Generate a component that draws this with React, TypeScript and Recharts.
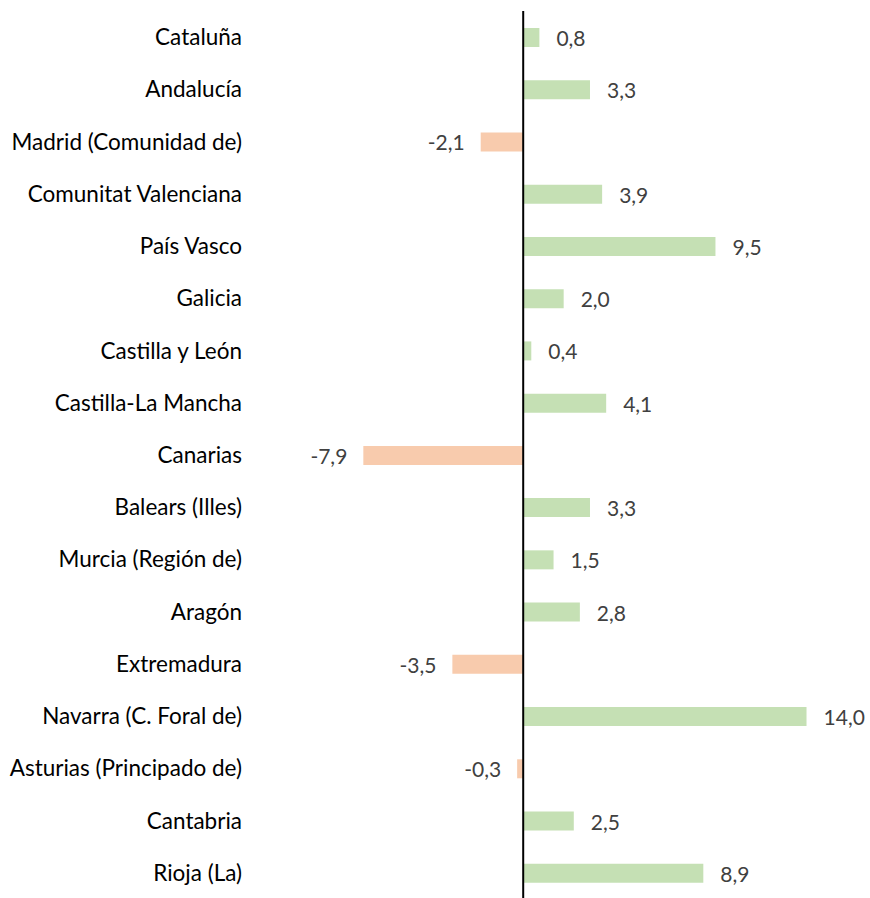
import { BarChart, Bar, XAxis, YAxis, Cell, LabelList, ReferenceLine } from "recharts";

const regions = [
  "Cataluña",
  "Andalucía",
  "Madrid (Comunidad de)",
  "Comunitat Valenciana",
  "País Vasco",
  "Galicia",
  "Castilla y León",
  "Castilla-La Mancha",
  "Canarias",
  "Balears (Illes)",
  "Murcia (Región de)",
  "Aragón",
  "Extremadura",
  "Navarra (C. Foral de)",
  "Asturias (Principado de)",
  "Cantabria",
  "Rioja (La)",
];

const changes = [0.8, 3.3, -2.1, 3.9, 9.5, 2.0, 0.4, 4.1, -7.9, 3.3, 1.5, 2.8, -3.5, 14.0, -0.3, 2.5, 8.9];

const data = regions.map((name, i) => ({ name, value: changes[i] }));

const POS = "#C5E0B4";
const NEG = "#F8CBAD";
const FONT = "Lato, 'Open Sans', sans-serif";

const fmt = (v: number) => v.toFixed(1).replace(".", ",");

const ValueLabel = (props: any) => {
  const { x, y, width, height, value } = props;
  const left = Math.min(x, x + width);
  const right = Math.max(x, x + width);
  const neg = value < 0;
  return (
    <text
      x={neg ? left - 16 : right + 17}
      y={y + height / 2}
      textAnchor={neg ? "end" : "start"}
      dominantBaseline="central"
      fill="#404040"
      fontSize={21}
      fontFamily={FONT}
    >
      {fmt(value)}
    </text>
  );
};

export default function App() {
  return (
    <div style={{ position: "absolute", left: 0, top: 0, background: "#fff" }}>
      <BarChart
        width={870}
        height={900}
        data={data}
        layout="vertical"
        margin={{ top: 11, right: 23, bottom: 1, left: 0 }}
      >
        <XAxis type="number" domain={[-13.5, 16]} hide />
        <YAxis
          type="category"
          dataKey="name"
          width={250}
          axisLine={false}
          tickLine={false}
          tickSize={0}
          tickMargin={8}
          interval={0}
          tick={{ fill: "#000", fontSize: 22.5, fontFamily: FONT }}
        />
        <Bar dataKey="value" barSize={19} isAnimationActive={false}>
          {data.map((d, i) => (
            <Cell key={i} fill={d.value < 0 ? NEG : POS} />
          ))}
          <LabelList dataKey="value" content={<ValueLabel />} />
        </Bar>
        <ReferenceLine x={0} stroke="#000" strokeWidth={2} />
      </BarChart>
    </div>
  );
}
